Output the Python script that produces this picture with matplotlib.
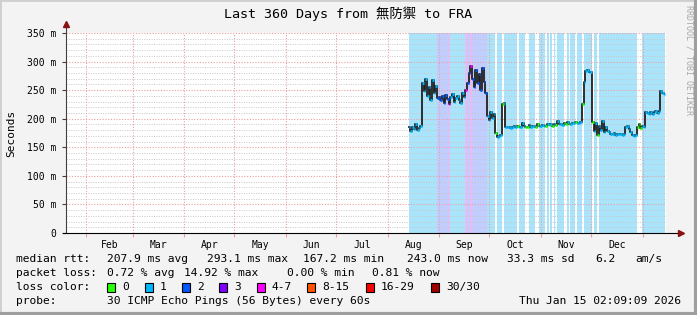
import numpy as np
import matplotlib.pyplot as plt
from matplotlib.patches import Rectangle
from matplotlib.lines import Line2D

W, H = 697, 315

# day index counted from Jan 20 2025 (graph start), 360 days shown
days = list(range(206, 360))
median_ms = [185, 178, 186, 182, 190, 180, 184, 188,
             262, 248, 270, 240, 255, 232, 268, 245, 258, 236,
             238, 232, 240, 228, 242, 235, 226, 238, 244, 230, 236, 240, 233, 228, 245, 238, 250, 262,
             280, 292, 270, 255, 285, 262, 278, 250, 288, 265, 245,
             205, 198, 212, 202, 208,
             175, 168, 170, 172,
             225, 228,
             186, 185, 186, 184, 185, 187, 186, 188, 185, 186,
             192, 187, 186, 185, 189, 186, 187, 188, 186, 190,
             187, 188, 189, 188, 187, 190, 189, 191, 188, 190,
             189, 196, 190, 191, 189, 192, 190, 195, 191, 190,
             192, 193, 194, 192, 193, 195,
             225,
             265, 283, 285, 281, 282,
             195, 178, 192, 172, 188, 180, 196, 176, 185, 178,
             176, 174, 173, 175, 172, 174, 173, 174, 172, 174, 186, 188, 182, 176, 172,
             170, 171,
             185, 190, 184, 188, 186,
             212,
             210, 208, 212, 209, 211, 213, 210, 214,
             248, 245, 243]
# loss class per day: 0 -> none, 1 -> 1, 2 -> 2, 3 -> 3, 4 -> 4-7
loss = ([1]*17 + [2]*7 + [4] + [1]*9 + [4] + [2]*2 + [4] + [2]*9 + [1]*5 + [0] + [1]*3 + [0]
        + [1]*8 + [0] + [1]*4 + [0]*2 + [1]*4 + [0]*2 + [1]*4 + [0] + [1] + [0] + [1] + [0] + [1] + [0]
        + [1]*4 + [0]*2 + [1] + [0] + [1]*3 + [0] + [1]*3 + [0] + [1]*5 + [0] + [1]*2 + [0]
        + [1]*23 + [0]*3 + [1]*14)

month_start = [12, 40, 71, 101, 132, 162, 193, 224, 254, 285, 315, 346, 360]
month_names = ['Feb', 'Mar', 'Apr', 'May', 'Jun', 'Jul', 'Aug', 'Sep', 'Oct', 'Nov', 'Dec']

loss_colors = ['#26ff00', '#00b8ff', '#0059ff', '#7e00ff', '#ff00ff', '#ff5500', '#ff0000', '#a10000']
loss_labels = ['0', '1', '2', '3', '4-7', '8-15', '16-29', '30/30']
bg_colors = [None, '#aae4fb', '#c2cdff', '#d0b8ff', '#f2b8f6']

MONO = ['DejaVu Sans Mono', 'Noto Sans CJK JP']

fig = plt.figure(figsize=(W/100, H/100), dpi=100, facecolor='#f3f3f3')

def fx(x):
    return x / W

def fy(y):
    return 1 - y / H

# frame shading
fig.add_artist(Rectangle((0, 0), 1, 1, transform=fig.transFigure, fill=False,
                         edgecolor='#cfcfcf', lw=2))
fig.add_artist(Line2D([fx(0), fx(W)], [fy(H-1.5), fy(H-1.5)], color='#9e9e9e', lw=3))
fig.add_artist(Line2D([fx(W-1.5), fx(W-1.5)], [fy(0), fy(H)], color='#9e9e9e', lw=3))

ax = fig.add_axes([fx(66), fy(233), 600/W, 200/H])
ax.set_facecolor('white')
ax.set_xlim(0, 360)
ax.set_ylim(0, 350)

# loss background bars
d = np.array(days)
for c in range(1, 5):
    sel = [i for i, l in enumerate(loss) if l == c]
    if sel:
        ax.bar(d[sel], 350, width=1.0, color=bg_colors[c], linewidth=0, zorder=1)

# grid
for y in range(10, 350, 10):
    if y % 50:
        ax.axhline(y, color='#c8c8c8', lw=0.7, ls=(0, (1, 1.5)), zorder=1.5)
for y in range(50, 351, 50):
    ax.axhline(y, color='#e8a0a0', lw=0.8, ls=(0, (1, 1.5)), zorder=1.6)
for m in month_start[:-1]:
    ax.axvline(m, color='#e8a0a0', lw=0.8, ls=(0, (1, 1.5)), zorder=1.6)

# median line coloured by loss
med = np.array(median_ms, dtype=float)
ax.step(d, med, where='mid', color='#202020', lw=1.3, zorder=3)
ax.hlines(med, d - 0.5, d + 0.5, colors=[loss_colors[l] for l in loss], lw=2.0, zorder=4)

# axes cosmetics
for s in ['top', 'right']:
    ax.spines[s].set_visible(False)
ax.spines['left'].set_color('#404040')
ax.spines['left'].set_bounds(0, 362)
ax.spines['bottom'].set_color('black')
ax.spines['bottom'].set_bounds(-2, 367)
ax.plot([0], [365], marker='^', color='#8b1010', ms=5, clip_on=False, zorder=6)
ax.plot([369], [0], marker='>', color='#8b1010', ms=5, clip_on=False, zorder=6)

ax.set_yticks(range(0, 351, 50))
ax.set_yticklabels(['0'] + ['%d m' % v for v in range(50, 351, 50)])
ax.set_xticks(month_start[:-1])
ax.set_xticklabels([])
ax.set_xticks([(month_start[i] + month_start[i+1]) / 2 for i in range(11)], minor=True)
ax.set_xticklabels(month_names, minor=True)
ax.tick_params(axis='x', which='major', length=3, color='#e8a0a0', direction='out')
ax.tick_params(axis='x', which='minor', length=0, pad=5, labelsize=7)
ax.tick_params(axis='y', length=3, color='#404040', pad=4, labelsize=7)
for lab in ax.get_xticklabels(minor=True) + ax.get_yticklabels():
    lab.set_family(MONO)

fig.text(fx(348), fy(14), 'Last 360 Days from 無防禦 to FRA', ha='center', va='center',
         family=MONO, fontsize=9.6)
fig.text(fx(11), fy(133), 'Seconds', rotation=90, ha='center', va='center',
         family=MONO, fontsize=8)
fig.text(fx(689), fy(5), 'RRDTOOL / TOBI OETIKER', rotation=270, ha='center', va='top',
         family=MONO, fontsize=6, color='#a8a8a8')

fs = 8.1
def put(x, y, s, **kw):
    fig.text(fx(x), fy(y), s, va='center', family=MONO, fontsize=fs, **kw)

put(16, 259, 'median rtt:')
for x, s in [(107, '207.9 ms avg'), (207, '293.1 ms max'), (303, '167.2 ms min'),
             (407, '243.0 ms now'), (507, '33.3 ms sd'), (595, '6.2'), (635, 'am/s')]:
    put(x, 259, s)
put(16, 273, 'packet loss:')
for x, s in [(107, '0.72 % avg'), (184, '14.92 % max'), (287, '0.00 % min'), (372, '0.81 % now')]:
    put(x, 273, s)
put(16, 287, 'loss color:')
box_x = [107, 145, 182, 219, 257, 307, 366, 431]
for bx, c, lab in zip(box_x, loss_colors, loss_labels):
    fig.add_artist(Rectangle((fx(bx), fy(292)), 8/W, 9/H, transform=fig.transFigure,
                             facecolor=c, edgecolor='black', lw=0.8))
    put(bx + 15, 287, lab)
put(16, 301, 'probe:')
put(107, 301, '30 ICMP Echo Pings (56 Bytes) every 60s')
put(681, 301, 'Thu Jan 15 02:09:09 2026', ha='right')

fig.savefig('out.png', dpi=100, facecolor=fig.get_facecolor())
